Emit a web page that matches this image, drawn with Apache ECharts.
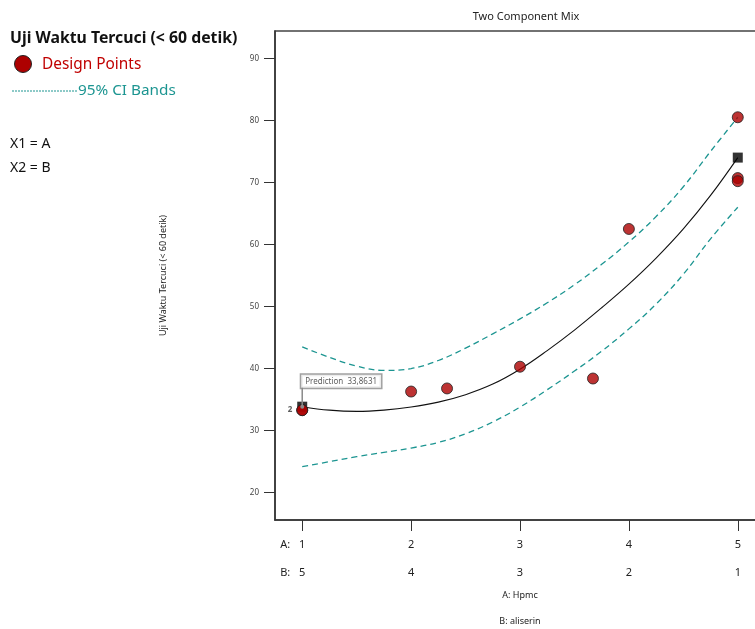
<!DOCTYPE html>
<html>
<head>
<meta charset="utf-8">
<script src="https://cdn.jsdelivr.net/npm/echarts@6/dist/echarts.min.js"></script>
<style>html,body{margin:0;padding:0;background:#fff;}#c{width:755px;height:629px;}</style>
</head>
<body>
<div id="c"></div>
<script>
// Data
const gridA = [1, 1.25, 1.5, 1.75, 2, 2.25, 2.5, 2.75, 3, 3.25, 3.5, 3.75, 4, 4.25, 4.5, 4.75, 5];
const fitValues = [33.86, 33.3, 33.1, 33.3, 33.8, 34.6, 35.8, 37.5, 39.9, 42.9, 46.2, 49.8, 53.6, 57.8, 62.5, 67.9, 74.0];
const upperCI = [43.5, 41.8, 40.4, 39.7, 40.0, 41.3, 43.3, 45.6, 48.0, 50.6, 53.5, 56.8, 60.4, 64.5, 69.3, 75.0, 80.5];
const lowerCI = [24.2, 25.0, 25.8, 26.5, 27.2, 28.1, 29.5, 31.4, 33.8, 36.6, 39.6, 42.8, 46.4, 50.4, 55.2, 60.9, 66.0];
const designA = [1, 1, 2, 2.33, 3, 3.67, 4, 5, 5, 5];
const designY = [33.3, 33.3, 36.3, 36.8, 40.3, 38.4, 62.5, 80.5, 70.7, 70.2];
const predA = [1, 5];
const predY = [33.8631, 74.0];
const predictionText = 'Prediction  33,8631';
const xTicks = [1, 2, 3, 4, 5];
const yTicks = [20, 30, 40, 50, 60, 70, 80, 90];
const FONT = '"Noto Sans", "Open Sans", sans-serif';
const TEAL = '#1c9591';
const RED = '#ad0000';

const pair = (xs, ys) => xs.map((x, i) => [x, ys[i]]);

const predData = pair(predA, predY).map((d, i) => i === 0 ? {
  value: d,
  label: {show: true, position: 'top', distance: 14, align: 'left', verticalAlign: 'bottom', offset: [-1, 0],
    formatter: predictionText, fontSize: 8, color: '#333', fontFamily: FONT, backgroundColor: '#fff',
    borderColor: '#8a8a8a', borderWidth: 1.5, padding: [3, 4, 2, 4]}
} : {value: d});

const designData = pair(designA, designY).map((d, i) => i === 0 ? {
  value: d,
  label: {show: true, position: 'left', distance: 4, fontSize: 8, fontWeight: 'bold', color: '#333', formatter: '2'}
} : {value: d});

const chart = echarts.init(document.getElementById('c'), null, {renderer: 'canvas'});
const option = {
  animation: false,
  backgroundColor: '#fff',
  textStyle: {fontFamily: FONT},
  title: {
    text: 'Two Component Mix', left: 521, top: 6, textAlign: 'center',
    textStyle: {fontFamily: FONT, fontSize: 11, fontWeight: 'normal', color: '#222'}
  },
  grid: {left: 275, top: 31, width: 490, height: 489, show: true, borderColor: '#444', borderWidth: 1.5, containLabel: false, outerBoundsMode: 'none'},
  xAxis: {
    type: 'value', min: 0.75, max: 5.25,
    axisLine: {show: true, lineStyle: {color: '#333', width: 1.5}},
    axisTick: {show: true, length: 11, customValues: xTicks, lineStyle: {color: '#333', width: 1}},
    axisLabel: {
      customValues: xTicks, margin: 11, fontSize: 11, color: '#222', lineHeight: 28, fontFamily: FONT,
      formatter: v => v + '\n' + (6 - v)
    },
    splitLine: {show: false},
    name: 'A: Hpmc\nB: aliserin', nameLocation: 'middle', nameGap: 62, nameMoveOverlap: false,
    nameTextStyle: {fontSize: 9, color: '#222', lineHeight: 26, fontFamily: FONT}
  },
  yAxis: {
    type: 'value', min: 15.6, max: 94.4,
    axisLine: {show: true, lineStyle: {color: '#333', width: 1.5}},
    axisTick: {show: true, length: 11, customValues: yTicks, lineStyle: {color: '#333', width: 1}},
    axisLabel: {customValues: yTicks, margin: 16, fontSize: 8, color: '#444', fontFamily: FONT},
    splitLine: {show: false},
    name: 'Uji Waktu Tercuci (< 60 detik)', nameLocation: 'middle', nameRotate: 90, nameGap: 107, nameMoveOverlap: false,
    nameTextStyle: {fontSize: 9, color: '#222', fontFamily: FONT}
  },
  series: [
    {type: 'line', data: pair(gridA, upperCI), smooth: 0.4, showSymbol: false, symbol: 'none',
     lineStyle: {color: TEAL, width: 1.3, type: [6, 4]}, z: 2},
    {type: 'line', data: pair(gridA, lowerCI), smooth: 0.4, showSymbol: false, symbol: 'none',
     lineStyle: {color: TEAL, width: 1.3, type: [6, 4]}, z: 2},
    {type: 'line', data: pair(gridA, fitValues), smooth: 0.4, showSymbol: false, symbol: 'none',
     lineStyle: {color: '#111', width: 1.1}, z: 3},
    {type: 'scatter', data: predData, symbol: 'rect', symbolSize: 10, itemStyle: {color: '#000'}, z: 4},
    {type: 'scatter', data: designData, symbol: 'circle', symbolSize: 11,
     itemStyle: {color: RED, borderColor: '#222', borderWidth: 1}, z: 5}
  ]
};
chart.setOption(option);

const pp = chart.convertToPixel({gridIndex: 0}, [predA[0], predY[0]]);
const a1 = chart.convertToPixel({gridIndex: 0}, [xTicks[0], 15.6]);
chart.setOption({
  graphic: [
    {type: 'line', shape: {x1: pp[0], y1: pp[1] - 19, x2: pp[0], y2: pp[1]}, style: {stroke: '#8a8a8a', lineWidth: 1.5}, z: 20},
    {type: 'circle', shape: {cx: pp[0], cy: pp[1], r: 2}, style: {fill: '#8a8a8a'}, z: 20},
    {type: 'text', x: a1[0] - 22, y: a1[1] + 25, style: {text: 'A:', font: '11px ' + FONT, fill: '#222', textVerticalAlign: 'middle'}},
    {type: 'text', x: a1[0] - 22, y: a1[1] + 53, style: {text: 'B:', font: '11px ' + FONT, fill: '#222', textVerticalAlign: 'middle'}},
    {type: 'text', x: 10, y: 38, style: {text: 'Uji Waktu Tercuci (< 60 detik)', font: 'bold 15.8px ' + FONT, fill: '#111', textVerticalAlign: 'middle'}},
    {type: 'circle', shape: {cx: 23, cy: 64, r: 8.5}, style: {fill: RED, stroke: '#222', lineWidth: 1}},
    {type: 'text', x: 42, y: 65, style: {text: 'Design Points', font: '15.4px ' + FONT, fill: '#c00000', textVerticalAlign: 'middle'}},
    {type: 'line', shape: {x1: 12, y1: 91, x2: 77, y2: 91}, style: {stroke: TEAL, lineWidth: 1, lineDash: [2, 1]}},
    {type: 'text', x: 78, y: 91, style: {text: '95% CI Bands', font: '15.3px ' + FONT, fill: TEAL, textVerticalAlign: 'middle'}},
    {type: 'text', x: 10, y: 144, style: {text: 'X1 = A', font: '14px ' + FONT, fill: '#111', textVerticalAlign: 'middle'}},
    {type: 'text', x: 10, y: 168, style: {text: 'X2 = B', font: '14px ' + FONT, fill: '#111', textVerticalAlign: 'middle'}}
  ]
});
</script>
</body>
</html>
